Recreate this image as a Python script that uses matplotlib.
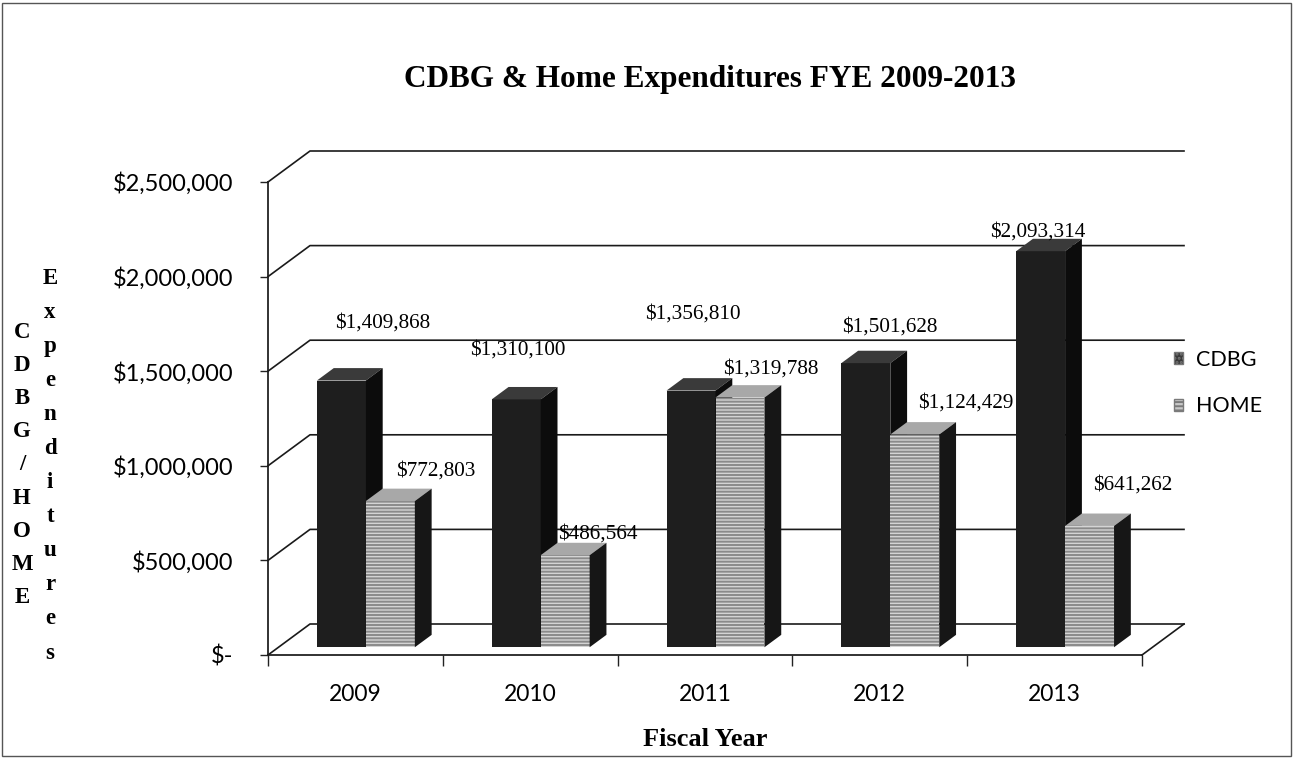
import numpy as np
import matplotlib
matplotlib.use('Agg')
import matplotlib.pyplot as plt
from matplotlib.patches import Polygon, Patch
from matplotlib.transforms import IdentityTransform

# datos
anios = ['2009', '2010', '2011', '2012', '2013']
cdbg = [1409868, 1310100, 1356810, 1501628, 2093314]
home = [772803, 486564, 1319788, 1124429, 641262]
yticks = [0, 500000, 1000000, 1500000, 2000000, 2500000]
yticklabels = ['$-', '$500,000', '$1,000,000', '$1,500,000', '$2,000,000', '$2,500,000']

# desplazamiento de las etiquetas (px) respecto al centro superior de la barra
off_cdbg = [(41, 57), (2, 49), (2, 76), (24, 36), (-3, 19)]
off_home = [(45, 30), (33, 21), (31, 28), (51, 31), (43, 41)]

W, H = 1294, 760
DX, DY = 42, 31          # profundidad del piso en px
F1, F2 = 0.25, 0.65      # profundidad de las barras
ANCHO = 0.28

serif = 'Liberation Serif'
sans = 'Lato'

fig = plt.figure(figsize=(W / 100, H / 100), dpi=100)
ax = fig.add_axes([268 / W, 105 / H, 874 / W, 473 / H])
ax.set_xlim(0, 5)
ax.set_ylim(0, 2500000)
ax.set_facecolor('none')
for s in ['top', 'right']:
    ax.spines[s].set_visible(False)
for s in ['left', 'bottom']:
    ax.spines[s].set_color('#222222')
    ax.spines[s].set_linewidth(1.3)

ax.set_yticks(yticks)
ax.set_yticklabels(yticklabels, fontfamily=sans, fontsize=17)
ax.tick_params(axis='y', direction='out', length=6, width=1, pad=19, colors='#222222', labelcolor='black')
ax.set_xticks(range(6))
ax.set_xticklabels([])
ax.set_xticks(np.arange(5) + 0.5, minor=True)
ax.set_xticklabels(anios, minor=True, fontfamily=sans, fontsize=16.5)
ax.tick_params(axis='x', which='major', direction='out', length=8, width=1, colors='#222222')
ax.tick_params(axis='x', which='minor', length=0, pad=21)


def P(x, v, f):
    p = ax.transData.transform((x, v))
    return (p[0] + f * DX, p[1] + f * DY)


def poly(pts, fc, ec='none', lw=0, z=3, hatch=None):
    pg = Polygon(pts, closed=True, facecolor=fc, edgecolor=ec, linewidth=lw,
                 transform=IdentityTransform(), zorder=z, hatch=hatch, clip_on=False)
    fig.add_artist(pg)


# paredes y cuadricula
linea = dict(color='#1a1a1a', lw=1.2, transform=IdentityTransform(), zorder=1, clip_on=False)
for v in yticks:
    a, b = P(0, v, 0), P(0, v, 1)
    c = P(5, v, 1)
    fig.add_artist(plt.Line2D([a[0], b[0], c[0]], [a[1], b[1], c[1]], **linea))
a, b = P(5, 0, 0), P(5, 0, 1)
fig.add_artist(plt.Line2D([a[0], b[0]], [a[1], b[1]], **linea))

plt.rcParams['hatch.linewidth'] = 1.4


def barra(x0, v, frente, tapa, lado, rayas=False):
    x1 = x0 + ANCHO
    z = 3
    poly([P(x0, 0, F1), P(x1, 0, F1), P(x1, v, F1), P(x0, v, F1)], frente, z=z)
    if rayas:
        poly([P(x0, 0, F1), P(x1, 0, F1), P(x1, v, F1), P(x0, v, F1)], 'none',
             ec='#8a8a8a', lw=0, z=z, hatch='-----')
    poly([P(x0, v, F1), P(x1, v, F1), P(x1, v, F2), P(x0, v, F2)], tapa, z=z)
    poly([P(x1, 0, F1), P(x1, 0, F2), P(x1, v, F2), P(x1, v, F1)], lado, z=z)


for i in range(5):
    xc = i + 0.5
    barra(xc - ANCHO, cdbg[i], '#1e1e1e', '#3a3a3a', '#0c0c0c')
    barra(xc, home[i], '#d4d4d4', '#a8a8a8', '#161616', rayas=True)

    for val, x0, off in [(cdbg[i], xc - ANCHO, off_cdbg[i]), (home[i], xc, off_home[i])]:
        p = P(x0 + ANCHO / 2, val, F1)
        fig.text((p[0] + off[0]) / W, (p[1] + off[1]) / H, f'${val:,}',
                 ha='center', va='center', fontfamily=serif, fontsize=15.3)

# leyenda
ax.legend(handles=[Patch(facecolor='#3a3a3a', edgecolor='#777777', hatch='....'),
                   Patch(facecolor='#c8c8c8', edgecolor='#7a7a7a', hatch='----')],
          labels=['CDBG', 'HOME'], loc='center left', bbox_to_anchor=(1163 / W, 1 - 383 / H),
          bbox_transform=fig.transFigure, frameon=False, prop={'family': sans, 'size': 15.5},
          handlelength=0.45, handleheight=0.45, handletextpad=0.6, labelspacing=1.25, borderpad=0)

# textos
fig.text(710 / W, 1 - 79 / H, 'CDBG & Home Expenditures FYE 2009-2013', ha='center', va='center',
         fontfamily=serif, fontweight='bold', fontsize=22.5)
fig.text(705 / W, 1 - 739 / H, 'Fiscal Year', ha='center', va='center',
         fontfamily=serif, fontweight='bold', fontsize=19)

for k, ch in enumerate('CDBG/HOME'):
    fig.text(22 / W, 1 - (332 + k * 33.2) / H, ch, ha='center', va='center',
             fontfamily=serif, fontweight='bold', fontsize=16.5)
for k, ch in enumerate('Expenditures'):
    fig.text(50 / W, 1 - (278 + k * 34.1) / H, ch, ha='center', va='center',
             fontfamily=serif, fontweight='bold', fontsize=16.5)

# marco
fig.add_artist(plt.Rectangle((2 / W, 4 / H), 1289 / W, 753 / H, transform=fig.transFigure,
                             fill=False, edgecolor='#555555', linewidth=1.0))

fig.savefig('out.png', dpi=100)
